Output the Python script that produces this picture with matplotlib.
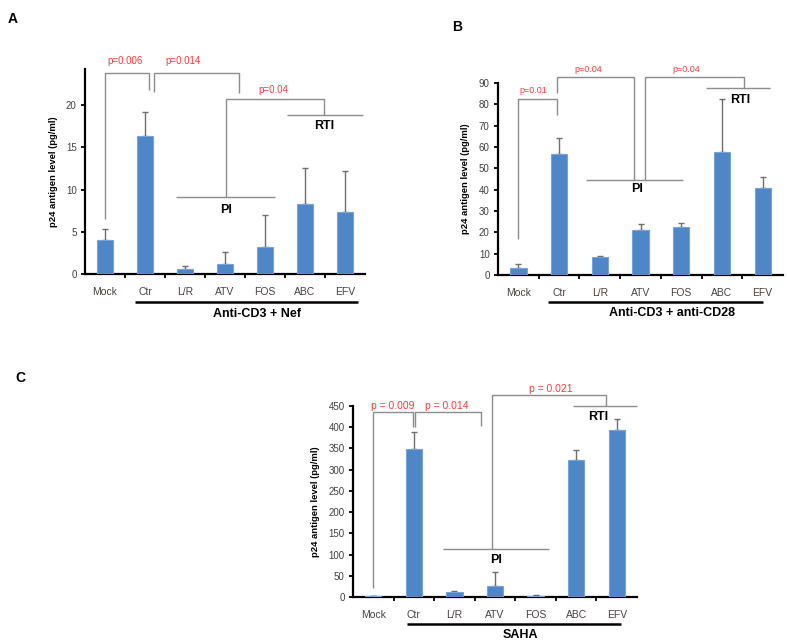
import matplotlib
matplotlib.use("Agg")
import matplotlib.pyplot as plt
import numpy as np

plt.rcParams['font.family'] = ['Liberation Sans', 'DejaVu Sans']

categories = ["Mock", "Ctr", "L/R", "ATV", "FOS", "ABC", "EFV"]

# Panel A: Anti-CD3 + Nef
a_vals = [4.0, 16.3, 0.6, 1.2, 3.2, 8.3, 7.3]
a_err = [1.3, 2.9, 0.4, 1.4, 3.8, 4.3, 4.9]
# Panel B: Anti-CD3 + anti-CD28
b_vals = [3.5, 56.5, 8.5, 21.3, 22.7, 57.5, 40.8]
b_err = [1.5, 7.8, 0.5, 2.7, 1.8, 25.0, 5.0]
# Panel C: SAHA
c_vals = [2, 348, 12, 27, 2, 323, 393]
c_err = [1, 40, 3, 33, 3, 23, 27]

a_ticks = [0, 5, 10, 15, 20]
b_ticks = list(range(0, 100, 10))
c_ticks = list(range(0, 500, 50))

W, H = 787, 641
fig = plt.figure(figsize=(W / 100, H / 100), dpi=100)

BAR = '#4f86c6'
BAR_EDGE = '#79a3d6'
GRAY = '#8c8c8c'
RED = '#ff3b3b'
TXT = '#404040'


def make_ax(left, right, bottom, top):
    return fig.add_axes([left / W, 1 - bottom / H, (right - left) / W, (bottom - top) / H])


def draw_panel(ax, vals, errs, ticks, ymax):
    x = np.arange(len(categories))
    ax.bar(x, vals, width=0.4, color=BAR, edgecolor=BAR_EDGE, linewidth=0.8, zorder=3)
    ax.errorbar(x, vals, yerr=[np.zeros(len(vals)), errs], fmt='none', ecolor='#6e6e6e',
                elinewidth=1.0, capsize=2.2, capthick=1.0, zorder=2)
    ax.set_xlim(-0.5, len(categories) - 0.5)
    ax.set_ylim(0, ymax)
    ax.set_yticks(ticks)
    ax.set_yticklabels([str(t) for t in ticks], fontsize=7, color=TXT)
    ax.set_xticks(x)
    ax.set_xticklabels(categories, fontsize=7.5, color='#4a4040')
    ax.set_xticks(np.arange(0.5, len(categories) - 0.5, 1.0), minor=True)
    ax.tick_params(axis='x', which='major', length=0, pad=9)
    ax.tick_params(axis='x', which='minor', length=3, width=1.3, direction='out', color='black')
    ax.tick_params(axis='y', length=3, width=1.3, direction='out', color='black', pad=3)
    for s in ['top', 'right']:
        ax.spines[s].set_visible(False)
    for s in ['left', 'bottom']:
        ax.spines[s].set_linewidth(1.6)
        ax.spines[s].set_color('black')
    ax.set_ylabel("p24 antigen level (pg/ml)", fontsize=6.8, fontweight='bold', labelpad=6)
    ax.patch.set_alpha(0)


def line(ax, xs, ys, color=GRAY, lw=1.0):
    ax.plot(xs, ys, color=color, lw=lw, clip_on=False, zorder=4, solid_capstyle='butt')


def bracket(ax, x0, y0, x1, y1, ytop):
    line(ax, [x0, x0, x1, x1], [y0, ytop, ytop, y1])


def ptext(ax, x, y, s, fs=7):
    ax.text(x, y, s, color=RED, fontsize=fs, ha='center', va='center', clip_on=False)


def btext(ax, x, y, s, fs=9):
    ax.text(x, y, s, color='black', fontsize=fs, fontweight='bold', ha='center', va='center', clip_on=False)


# ---------------- Panel A ----------------
axA = make_ax(85, 365, 274, 69)
draw_panel(axA, a_vals, a_err, a_ticks, 24.3)
bracket(axA, 0, 6.5, 1.1, 21.8, 23.8)
bracket(axA, 1.22, 21.6, 3.35, 21.5, 23.8)
ptext(axA, 0.5, 25.2, "p=0.006")
ptext(axA, 1.95, 25.2, "p=0.014")
line(axA, [1.78, 4.25], [9.1, 9.1])
btext(axA, 3.03, 7.6, "PI")
bracket(axA, 3.03, 9.1, 5.48, 18.9, 20.7)
line(axA, [4.55, 6.45], [18.9, 18.9])
btext(axA, 5.48, 17.5, "RTI")
ptext(axA, 4.2, 21.8, "p=0.04")
line(axA, [0.75, 6.33], [-3.3, -3.3], color='black', lw=1.8)
btext(axA, 3.8, -4.7, "Anti-CD3 + Nef")

# ---------------- Panel B ----------------
axB = make_ax(498, 783, 275, 83)
draw_panel(axB, b_vals, b_err, b_ticks, 90)
bracket(axB, 0, 16.9, 0.96, 75, 82.5)
ptext(axB, 0.37, 86.5, "p=0.01", fs=6.5)
bracket(axB, 0.96, 85.3, 2.85, 44.5, 92.8)
ptext(axB, 1.72, 96.2, "p=0.04", fs=6.5)
line(axB, [1.67, 4.05], [44.5, 44.5])
btext(axB, 2.92, 40.3, "PI")
bracket(axB, 3.12, 44.5, 5.53, 87.7, 92.8)
ptext(axB, 4.13, 96.2, "p=0.04", fs=6.5)
line(axB, [4.6, 6.17], [87.7, 87.7])
btext(axB, 5.45, 82.0, "RTI")
line(axB, [0.74, 6.02], [-12.7, -12.7], color='black', lw=1.8)
btext(axB, 3.78, -18.0, "Anti-CD3 + anti-CD28")

# ---------------- Panel C ----------------
axC = make_ax(353, 637, 597, 406)
draw_panel(axC, c_vals, c_err, c_ticks, 450)
bracket(axC, 0, 21, 0.98, 400, 436)
ptext(axC, 0.49, 451, "p = 0.009", fs=7.5)
bracket(axC, 1.03, 400, 2.66, 403, 436)
ptext(axC, 1.82, 451, "p = 0.014", fs=7.5)
line(axC, [1.72, 4.33], [113, 113])
btext(axC, 3.03, 86, "PI")
bracket(axC, 2.93, 113, 5.74, 450, 476)
ptext(axC, 4.38, 490, "p = 0.021", fs=7.5)
line(axC, [4.93, 6.5], [450, 450])
btext(axC, 5.54, 425, "RTI")
line(axC, [0.84, 6.1], [-64, -64], color='black', lw=1.8)
btext(axC, 3.62, -90, "SAHA")

# Panel letters
fig.text(8 / W, 1 - 19 / H, "A", fontsize=10, fontweight='bold', ha='left', va='center')
fig.text(452 / W, 1 - 27 / H, "B", fontsize=10, fontweight='bold', ha='left', va='center')
fig.text(15 / W, 1 - 378 / H, "C", fontsize=10, fontweight='bold', ha='left', va='center')

fig.savefig("out.png", dpi=100)
